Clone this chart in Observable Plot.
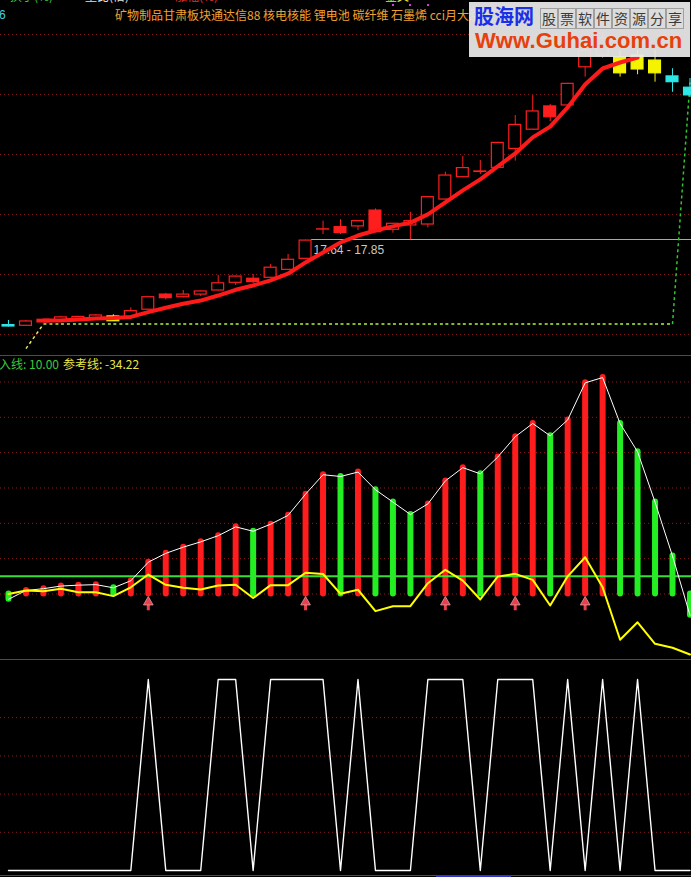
<!DOCTYPE html>
<html><head><meta charset="utf-8">
<script src="https://cdn.jsdelivr.net/npm/d3@7"></script>
<script src="https://cdn.jsdelivr.net/npm/@observablehq/plot@0.6"></script>
<style>
html,body{margin:0;padding:0;background:#000;}
#wrap{position:relative;width:691px;height:877px;overflow:hidden;background:#000;font-family:"Noto Sans CJK SC","Liberation Sans",sans-serif;}
.abs{position:absolute;white-space:nowrap;}
.pane{position:absolute;left:0;width:691px;}
#logo{position:absolute;left:469px;top:2px;width:221px;height:55px;background:rgba(232,232,232,0.94);}
.box{position:absolute;top:6px;width:16px;height:19px;border:1px solid #a0a0a0;background:#dcdcdc;color:#3a3a3a;font-size:14px;line-height:19px;text-align:center;}
</style></head><body><div id="wrap"></div>
<script>
// ---------- data ----------
const idx = d3.range(40);
const open  = [14.18,14.15,14.40,14.37,14.41,14.45,14.54,14.51,14.82,15.45,15.34,15.45,15.62,15.94,16.11,16.15,16.48,16.94,18.16,18.26,18.29,18.95,18.15,18.33,18.37,19.41,20.34,20.58,20.73,21.52,22.32,23.29,23.33,24.92,25.41,25.34,25.41,25.20,24.54,24.07];
const close = [14.12,14.33,14.29,14.50,14.52,14.58,14.34,14.76,15.34,15.30,15.45,15.58,15.92,16.20,15.97,16.57,16.90,17.70,18.17,18.02,18.51,18.05,18.40,18.51,19.51,20.41,20.72,20.56,21.77,22.52,23.08,22.84,24.23,25.62,26.12,24.67,24.83,24.67,24.30,23.75];
const high  = [14.37,14.37,14.41,14.54,14.54,14.62,14.61,14.90,15.34,15.50,15.62,15.60,16.25,16.22,16.29,16.70,17.12,17.72,18.51,18.57,18.52,19.02,18.41,18.88,19.54,20.55,21.20,21.04,21.79,22.91,23.74,23.37,24.25,25.83,26.37,25.62,25.62,25.62,24.86,24.45];
const low   = [14.10,14.15,14.27,14.35,14.41,14.43,14.34,14.51,14.82,15.23,15.31,15.37,15.60,15.83,15.91,16.15,16.45,16.94,17.95,17.95,18.12,18.04,18.01,17.73,18.23,19.39,20.33,20.45,20.72,21.01,22.31,22.66,23.31,24.51,25.29,24.51,24.61,24.30,23.88,23.66];
const candleState = ["c","r","r","r","r","r","y","r","r","r","r","r","r","r","r","r","r","r","r","r","r","r","r","r","r","r","r","r","r","r","r","r","r","r","r","y","y","y","c","c"];
const maLine = [null,null,14.37,14.37,14.41,14.45,14.47,14.52,14.72,14.90,15.07,15.20,15.41,15.65,15.83,16.04,16.32,16.79,17.20,17.62,17.91,18.12,18.29,18.45,18.79,19.29,19.79,20.25,20.79,21.33,22.00,22.45,23.25,24.20,24.87,25.12,25.33,null,null,null];
const levelLine = [null,13.20,14.22,14.22,14.22,14.22,14.22,14.22,14.22,14.22,14.22,14.22,14.22,14.22,14.22,14.22,14.22,14.22,14.22,14.22,14.22,14.22,14.22,14.22,14.22,14.22,14.22,14.22,14.22,14.22,14.22,14.22,14.22,14.22,14.22,14.22,14.22,14.22,14.22,24.29];
const priceGrid = [13.79,16.29,18.79,21.29,23.79,26.29];
const markLevel = 17.745, markStart = 17.34, markLabel = "17.64 - 17.85";

const oscValue = [-3,2,3,4.5,5,5.3,3.5,7.5,18,23,26.5,29.5,33,38,35.5,39.5,44.5,56.5,67.5,66.5,69,59,52,45,51,64,71.5,68,77.5,89,96.5,89.5,98.5,119.5,122.5,96.5,80.5,52,21.5,-12];
const refLine  = [0,2,1.6,3,1,1,-1.2,3.8,11,5.2,3.5,2.5,4.8,5.2,-2.3,5,5,12,11.3,0.1,2.4,-9.7,-6.9,-6.9,6.1,13.7,7.6,-3.1,9.9,11.4,8,-6.5,10,20.8,3.8,-25.9,-16,-28.2,-30.4,-34.22];
const entryLevel = 10;
const arrowAt = [8,17,25,29,33];
const oscGrid = [0,20,40,60,80,100,120];

const signal = [0,0,0,0,0,0,0,0,1,0,0,0,1,1,0,1,1,1,1,0,1,0,0,0,1,1,1,0,1,1,1,0,1,0,1,0,1,0,0,0];
const signalGrid = [0.2,0.4,0.6,0.8];

// ---------- build ----------
const colorOf = {r:"#ff1e1e", y:"#f4f400", c:"#2ee6e6"};
const candles = idx.map(i => ({i, o:open[i], h:high[i], l:low[i], c:close[i], col:colorOf[candleState[i]]}));
const maData = idx.map(i => ({i, v:maLine[i]}));
const levelColor = i => i === 1 ? "#e8e85a" : (i === 38 ? "#2fc82f" : "#b6f03c");
const levelSegs = idx.filter(i => i >= 1 && i < 39).map(i => ({x1:i, y1:levelLine[i], x2:i+1, y2:levelLine[i+1], col:levelColor(i)}));
const osc = idx.map(i => ({i, v:oscValue[i], up: i > 0 && oscValue[i] > oscValue[i-1]}));
const ref = idx.map(i => ({i, v:refLine[i]}));
const sig = idx.map(i => ({i, v:signal[i]}));

const xDom = [-8/17.474, (691-8)/17.474];
const gridStyle = {stroke:"#8e1c1c", strokeDasharray:"1,3", strokeWidth:1};

function panel(h, ydom, marks) {
  return Plot.plot({
    width:691, height:h, margin:0,
    x:{domain:xDom, axis:null}, y:{domain:ydom, axis:null},
    style:{background:"#000", overflow:"hidden"},
    marks
  });
}

const pricePlot = panel(355, [12.912, 27.703], [
  Plot.ruleY(priceGrid, gridStyle),
  Plot.ruleY([markLevel], {x1:markStart, x2:xDom[1], stroke:"#a8a8a8", strokeWidth:1}),
  Plot.text([markLabel], {x:markStart, y:markLevel, text:d=>d, dx:2, dy:11, textAnchor:"start", fill:"#c8c8c8", fontSize:12, fontFamily:"Liberation Sans, Arial, sans-serif"}),
  Plot.link(levelSegs, {x1:"x1", y1:"y1", x2:"x2", y2:"y2", stroke:"col", strokeWidth:1.5, strokeDasharray:"3,3"}),
  Plot.ruleX(candles, {x:"i", y1:"l", y2:"h", stroke:"col", strokeWidth:1}),
  Plot.rect(candles, {x1:d=>d.i-0.34, x2:d=>d.i+0.34, y1:"o", y2:"c", fill:d=> d.c < d.o ? d.col : "#000", stroke:"col", strokeWidth:1.2}),
  Plot.line(maData, {x:"i", y:"v", stroke:"#ff1a1a", strokeWidth:4, defined:d=>d.v != null})
]);

const oscPlot = panel(304, [-37.07, 134.97], [
  Plot.ruleY(oscGrid, gridStyle),
  Plot.ruleX(osc, {x:"i", y1:0, y2:"v", stroke:d=>d.up ? "#ff1c1c" : "#22ee22", strokeWidth:6, strokeLinecap:"round"}),
  Plot.ruleY([entryLevel], {stroke:"#33e033", strokeWidth:2}),
  Plot.line(osc, {x:"i", y:"v", stroke:"#ffffff", strokeWidth:1}),
  Plot.line(ref, {x:"i", y:"v", stroke:"#ffff00", strokeWidth:2}),
  Plot.ruleX(arrowAt, {x:d=>d, y1:-6.2, y2:-9.5, stroke:"#e8404f", strokeWidth:3}),
  Plot.dot(arrowAt, {x:d=>d, y:-4.6, symbol:"triangle", r:3.6, fill:"#e8404f", stroke:"#d8a0a0", strokeWidth:0.8})
]);

const sigPlot = panel(218, [-0.0366, 1.1047], [
  Plot.ruleY(signalGrid, gridStyle),
  Plot.line(sig, {x:"i", y:"v", stroke:"#ffffff", strokeWidth:1.4})
]);

const wrap = document.getElementById("wrap");
function place(node, t) { const d = document.createElement("div"); d.className = "pane"; d.style.top = t + "px"; d.appendChild(node); wrap.appendChild(d); }
place(pricePlot, 0); place(oscPlot, 355); place(sigPlot, 659);

function addText(txt, x, y, size, color, extra) {
  const s = document.createElement("div"); s.className = "abs";
  s.style.left = x + "px"; s.style.top = y + "px"; s.style.fontSize = size + "px"; s.style.color = color; s.style.lineHeight = "1";
  if (extra) Object.assign(s.style, extra);
  s.textContent = txt; wrap.appendChild(s); return s;
}
function addRect(x, y, w, h, bg) {
  const s = document.createElement("div"); s.className = "abs";
  Object.assign(s.style, {left:x+"px", top:y+"px", width:w+"px", height:h+"px", background:bg});
  wrap.appendChild(s);
}
// separators
addRect(0, 355, 691, 1, "#b02222");
addRect(0, 659, 691, 1, "#b02222");
addRect(0, 875, 691, 1, "#b02222");
addRect(436, 875, 75, 2, "#3434c8");

// clipped header remnants at very top
addText("换手(%)", 10, -10, 12, "#3cc83c");
addText("量比(倍)", 85, -10, 12, "#e0e0e0");
addText("涨幅(%)", 175, -10, 12, "#e03030");
addText("金叉", 385, -10, 12, "#e8e840");
addRect(392, 4, 2, 2, "#d040d0"); addRect(409, 4, 2, 2, "#d040d0"); addRect(427, 4, 2, 2, "#d040d0");
addText("6", -1, 9, 12, "#40d0e0", {fontFamily:"Liberation Sans, Arial"});
addText("矿物制品甘肃板块通达信88 核电核能 锂电池 碳纤维 石墨烯 cci月大涨", 115, 9, 12, "#f0a030");

// middle pane header
addText("买入线: 10.00", -13, 358, 12, "#3cc83c");
addText("参考线: -34.22", 63, 358, 12, "#e6e64a");

// watermark logo
const logo = document.createElement("div"); logo.id = "logo"; wrap.appendChild(logo);
const l1 = document.createElement("div"); l1.className = "abs";
Object.assign(l1.style, {left:"5px", top:"4px", fontSize:"20px", fontWeight:"bold", color:"#1a30e8", lineHeight:"1"});
l1.textContent = "股海网"; logo.appendChild(l1);
"股票软件资源分享".split("").forEach((ch, k) => {
  const b = document.createElement("div"); b.className = "box"; b.style.left = (71 + k*18) + "px"; b.textContent = ch; logo.appendChild(b);
});
const l3 = document.createElement("div"); l3.className = "abs";
Object.assign(l3.style, {left:"6px", top:"28px", fontSize:"22px", fontWeight:"bold", color:"#e8400c", fontFamily:"Liberation Sans, Arial, sans-serif", lineHeight:"1", letterSpacing:"0.1px"});
l3.textContent = "Www.Guhai.com.cn"; logo.appendChild(l3);
</script></body></html>
